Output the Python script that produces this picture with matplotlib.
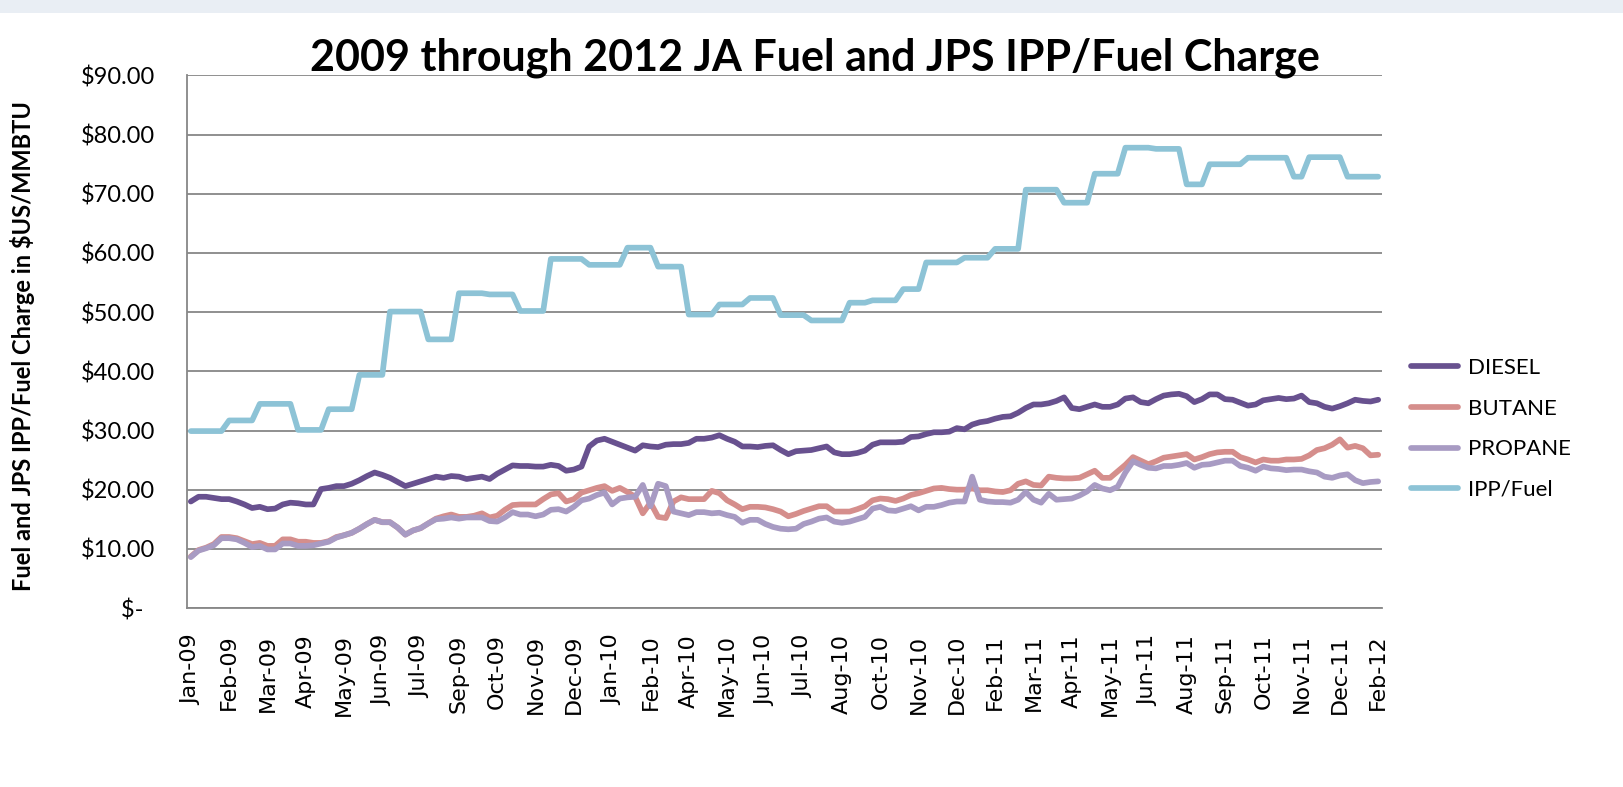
import matplotlib
matplotlib.use("Agg")
import matplotlib.pyplot as plt
from matplotlib.patches import Rectangle
import numpy as np

# ---------------- data ----------------
tick_labels = ["Jan-09", "Feb-09", "Mar-09", "Apr-09", "May-09", "Jun-09", "Jul-09",
               "Sep-09", "Oct-09", "Nov-09", "Dec-09", "Jan-10", "Feb-10", "Apr-10",
               "May-10", "Jun-10", "Jul-10", "Aug-10", "Oct-10", "Nov-10", "Dec-10",
               "Feb-11", "Mar-11", "Apr-11", "May-11", "Jun-11", "Aug-11", "Sep-11",
               "Oct-11", "Nov-11", "Dec-11", "Feb-12"]
label_every = 5

diesel = [18.0, 18.8, 18.8, 18.6, 18.4, 18.4, 18.0, 17.5, 16.9, 17.1,
          16.7, 16.8, 17.5, 17.8, 17.7, 17.5, 17.5, 20.1, 20.3, 20.6,
          20.6, 21.0, 21.6, 22.3, 22.9, 22.5, 22.0, 21.3, 20.6, 21.0,
          21.4, 21.8, 22.2, 22.0, 22.3, 22.2, 21.8, 22.0, 22.2, 21.8,
          22.7, 23.4, 24.1, 24.0, 24.0, 23.9, 23.9, 24.2, 24.0, 23.2,
          23.4, 23.9, 27.3, 28.3, 28.6, 28.1, 27.6, 27.1, 26.6, 27.5,
          27.3, 27.2, 27.6, 27.7, 27.7, 27.9, 28.6, 28.6, 28.8, 29.2,
          28.6, 28.1, 27.3, 27.3, 27.2, 27.4, 27.5, 26.7, 26.0, 26.5,
          26.6, 26.7, 27.0, 27.3, 26.3, 26.0, 26.0, 26.2, 26.6, 27.6,
          28.0, 28.0, 28.0, 28.1, 28.9, 29.0, 29.4, 29.7, 29.7, 29.8,
          30.4, 30.2, 31.0, 31.4, 31.6, 32.0, 32.3, 32.4, 33.0, 33.8,
          34.4, 34.4, 34.6, 35.0, 35.6, 33.8, 33.6, 34.0, 34.4, 34.0,
          34.0, 34.4, 35.4, 35.6, 34.8, 34.6, 35.3, 35.9, 36.1, 36.2,
          35.8, 34.8, 35.3, 36.1, 36.1, 35.3, 35.2, 34.7, 34.2, 34.4,
          35.1, 35.3, 35.5, 35.3, 35.4, 35.9, 34.8, 34.6, 34.0, 33.7,
          34.1, 34.6, 35.2, 35.0, 34.9, 35.2]

butane = [8.7, 9.8, 10.2, 10.8, 12.0, 12.0, 11.8, 11.3, 10.8, 11.0,
          10.5, 10.5, 11.6, 11.6, 11.2, 11.2, 11.0, 11.0, 11.3, 12.0,
          12.3, 12.7, 13.4, 14.2, 14.9, 14.5, 14.5, 13.6, 12.4, 13.1,
          13.5, 14.3, 15.1, 15.5, 15.8, 15.4, 15.4, 15.6, 16.0, 15.3,
          15.6, 16.6, 17.4, 17.5, 17.5, 17.5, 18.4, 19.2, 19.4, 18.0,
          18.4, 19.5, 19.9, 20.3, 20.6, 19.8, 20.3, 19.6, 18.8, 16.0,
          17.8, 15.4, 15.2, 18.0, 18.7, 18.4, 18.4, 18.4, 19.8, 19.4,
          18.2, 17.5, 16.7, 17.1, 17.1, 17.0, 16.7, 16.3, 15.5, 15.9,
          16.4, 16.8, 17.2, 17.2, 16.3, 16.3, 16.3, 16.7, 17.2, 18.2,
          18.5, 18.4, 18.1, 18.5, 19.1, 19.4, 19.8, 20.2, 20.3, 20.1,
          20.0, 20.0, 20.2, 19.9, 19.9, 19.7, 19.6, 19.9, 21.0, 21.4,
          20.8, 20.7, 22.2, 22.0, 21.9, 21.9, 22.0, 22.6, 23.2, 22.0,
          22.0, 23.1, 24.2, 25.5, 24.9, 24.3, 24.8, 25.4, 25.6, 25.8,
          26.0, 25.1, 25.5, 26.0, 26.3, 26.4, 26.4, 25.5, 25.1, 24.6,
          25.1, 24.9, 24.9, 25.1, 25.1, 25.2, 25.8, 26.7, 27.0, 27.6,
          28.5, 27.1, 27.4, 27.0, 25.8, 25.9]

propane = [8.6, 9.7, 10.1, 10.6, 11.8, 11.8, 11.6, 11.0, 10.3, 10.5,
           9.9, 9.9, 10.9, 10.9, 10.5, 10.5, 10.6, 10.9, 11.2, 11.9,
           12.3, 12.7, 13.4, 14.2, 14.9, 14.5, 14.5, 13.6, 12.4, 13.1,
           13.5, 14.3, 15.0, 15.1, 15.3, 15.1, 15.3, 15.3, 15.3, 14.7,
           14.6, 15.3, 16.2, 15.8, 15.8, 15.5, 15.8, 16.6, 16.7, 16.3,
           17.1, 18.2, 18.5, 19.1, 19.5, 17.5, 18.5, 18.7, 18.8, 20.8,
           17.2, 21.0, 20.6, 16.3, 16.0, 15.7, 16.2, 16.2, 16.0, 16.1,
           15.7, 15.4, 14.4, 14.9, 14.9, 14.2, 13.7, 13.4, 13.3, 13.4,
           14.2, 14.6, 15.1, 15.3, 14.6, 14.4, 14.6, 15.0, 15.4, 16.8,
           17.1, 16.5, 16.4, 16.8, 17.2, 16.5, 17.1, 17.1, 17.4, 17.8,
           18.0, 18.0, 22.2, 18.3, 18.0, 17.9, 17.9, 17.8, 18.3, 19.6,
           18.3, 17.8, 19.3, 18.3, 18.4, 18.5, 19.0, 19.7, 20.8, 20.2,
           19.9, 20.5, 22.9, 24.8, 24.2, 23.7, 23.6, 24.0, 24.0, 24.2,
           24.5, 23.7, 24.2, 24.3, 24.6, 24.9, 24.9, 24.0, 23.7, 23.2,
           23.9, 23.6, 23.5, 23.3, 23.4, 23.4, 23.1, 22.9, 22.2, 22.0,
           22.4, 22.6, 21.6, 21.1, 21.3, 21.4]

ipp_fuel = [29.9, 29.9, 29.9, 29.9, 29.9, 31.7, 31.7, 31.7, 31.7, 34.5,
            34.5, 34.5, 34.5, 34.5, 30.1, 30.1, 30.1, 30.1, 33.6, 33.6,
            33.6, 33.6, 39.4, 39.4, 39.4, 39.4, 50.1, 50.1, 50.1, 50.1,
            50.1, 45.4, 45.4, 45.4, 45.4, 53.2, 53.2, 53.2, 53.2, 53.0,
            53.0, 53.0, 53.0, 50.2, 50.2, 50.2, 50.2, 59.0, 59.0, 59.0,
            59.0, 59.0, 58.0, 58.0, 58.0, 58.0, 58.0, 60.9, 60.9, 60.9,
            60.9, 57.7, 57.7, 57.7, 57.7, 49.6, 49.6, 49.6, 49.6, 51.3,
            51.3, 51.3, 51.3, 52.4, 52.4, 52.4, 52.4, 49.5, 49.5, 49.5,
            49.5, 48.6, 48.6, 48.6, 48.6, 48.6, 51.6, 51.6, 51.6, 52.0,
            52.0, 52.0, 52.0, 53.9, 53.9, 53.9, 58.4, 58.4, 58.4, 58.4,
            58.4, 59.2, 59.2, 59.2, 59.2, 60.7, 60.7, 60.7, 60.7, 70.7,
            70.7, 70.7, 70.7, 70.7, 68.5, 68.5, 68.5, 68.5, 73.4, 73.4,
            73.4, 73.4, 77.8, 77.8, 77.8, 77.8, 77.6, 77.6, 77.6, 77.6,
            71.6, 71.6, 71.6, 75.0, 75.0, 75.0, 75.0, 75.0, 76.1, 76.1,
            76.1, 76.1, 76.1, 76.1, 72.9, 72.9, 76.2, 76.2, 76.2, 76.2,
            76.2, 72.9, 72.9, 72.9, 72.9, 72.9]

series_names = ["DIESEL", "BUTANE", "PROPANE", "IPP/Fuel"]
series_colors = ["#68518F", "#D58E8C", "#A89BC3", "#8DC3D6"]

y_ticks = [0, 10, 20, 30, 40, 50, 60, 70, 80, 90]
y_tick_labels = ["$-  ", "$10.00", "$20.00", "$30.00", "$40.00", "$50.00",
                 "$60.00", "$70.00", "$80.00", "$90.00"]

title = "2009 through 2012 JA Fuel and JPS IPP/Fuel Charge"
y_label = "Fuel and JPS IPP/Fuel Charge in $US/MMBTU"

# ---------------- figure ----------------
W, H = 1623, 787
fig = plt.figure(figsize=(W / 100, H / 100), dpi=100)
fig.patch.set_facecolor("#E9EEF4")
fig.add_artist(Rectangle((0.0, 0.0), 1.0, 1 - 13 / H, transform=fig.transFigure,
                         facecolor="white", edgecolor="none", zorder=-5))

ax = fig.add_axes([187 / W, 1 - 608 / H, (1382 - 187) / W, (608 - 75.5) / H])
ax.set_facecolor("white")
ax.set_zorder(1)

x = np.arange(len(diesel))
for vals, name, col in zip([diesel, butane, propane, ipp_fuel], series_names, series_colors):
    ax.plot(x, vals, color=col, lw=4.1, label=name,
            solid_joinstyle="round", solid_capstyle="round", zorder=3)

ax.set_xlim(-0.5, len(diesel) - 0.5)
ax.set_ylim(0, 90)

grid_col = "#878787"
ax.set_yticks(y_ticks)
ax.set_yticklabels(y_tick_labels, family="Lato", fontsize=17)
ax.yaxis.grid(True, color=grid_col, lw=1.3, zorder=1)
ax.set_axisbelow(True)
ax.tick_params(axis="y", length=0, pad=23)

tick_pos = np.arange(0, len(diesel), label_every)[:len(tick_labels)]
ax.set_xticks(tick_pos)
ax.set_xticklabels(tick_labels, rotation=90, family="DejaVu Sans", fontsize=16,
                   ha="center", va="top")
ax.tick_params(axis="x", length=0, pad=19)

for side in ["top", "right"]:
    ax.spines[side].set_visible(False)
for side in ["left", "bottom"]:
    ax.spines[side].set_color(grid_col)
    ax.spines[side].set_linewidth(1.3)

fig.text(0.502, 1 - 70 / H, title, ha="center", va="baseline",
         family="Lato", fontweight="bold", fontsize=31)
fig.text(23 / W, 1 - 346 / H, y_label, rotation=90, ha="center", va="center",
         family="Lato", fontweight="bold", fontsize=17)

leg = ax.legend(loc="center left", bbox_to_anchor=(1411 / W, 1 - 429 / H),
                bbox_transform=fig.transFigure, frameon=False,
                prop={"family": "Lato", "size": 16}, handlelength=2.1,
                handletextpad=0.45, labelspacing=0.93, borderpad=0, borderaxespad=0)
for line in leg.get_lines():
    line.set_linewidth(4.1)
    line.set_solid_capstyle("round")

fig.savefig("out.png", dpi=100)
